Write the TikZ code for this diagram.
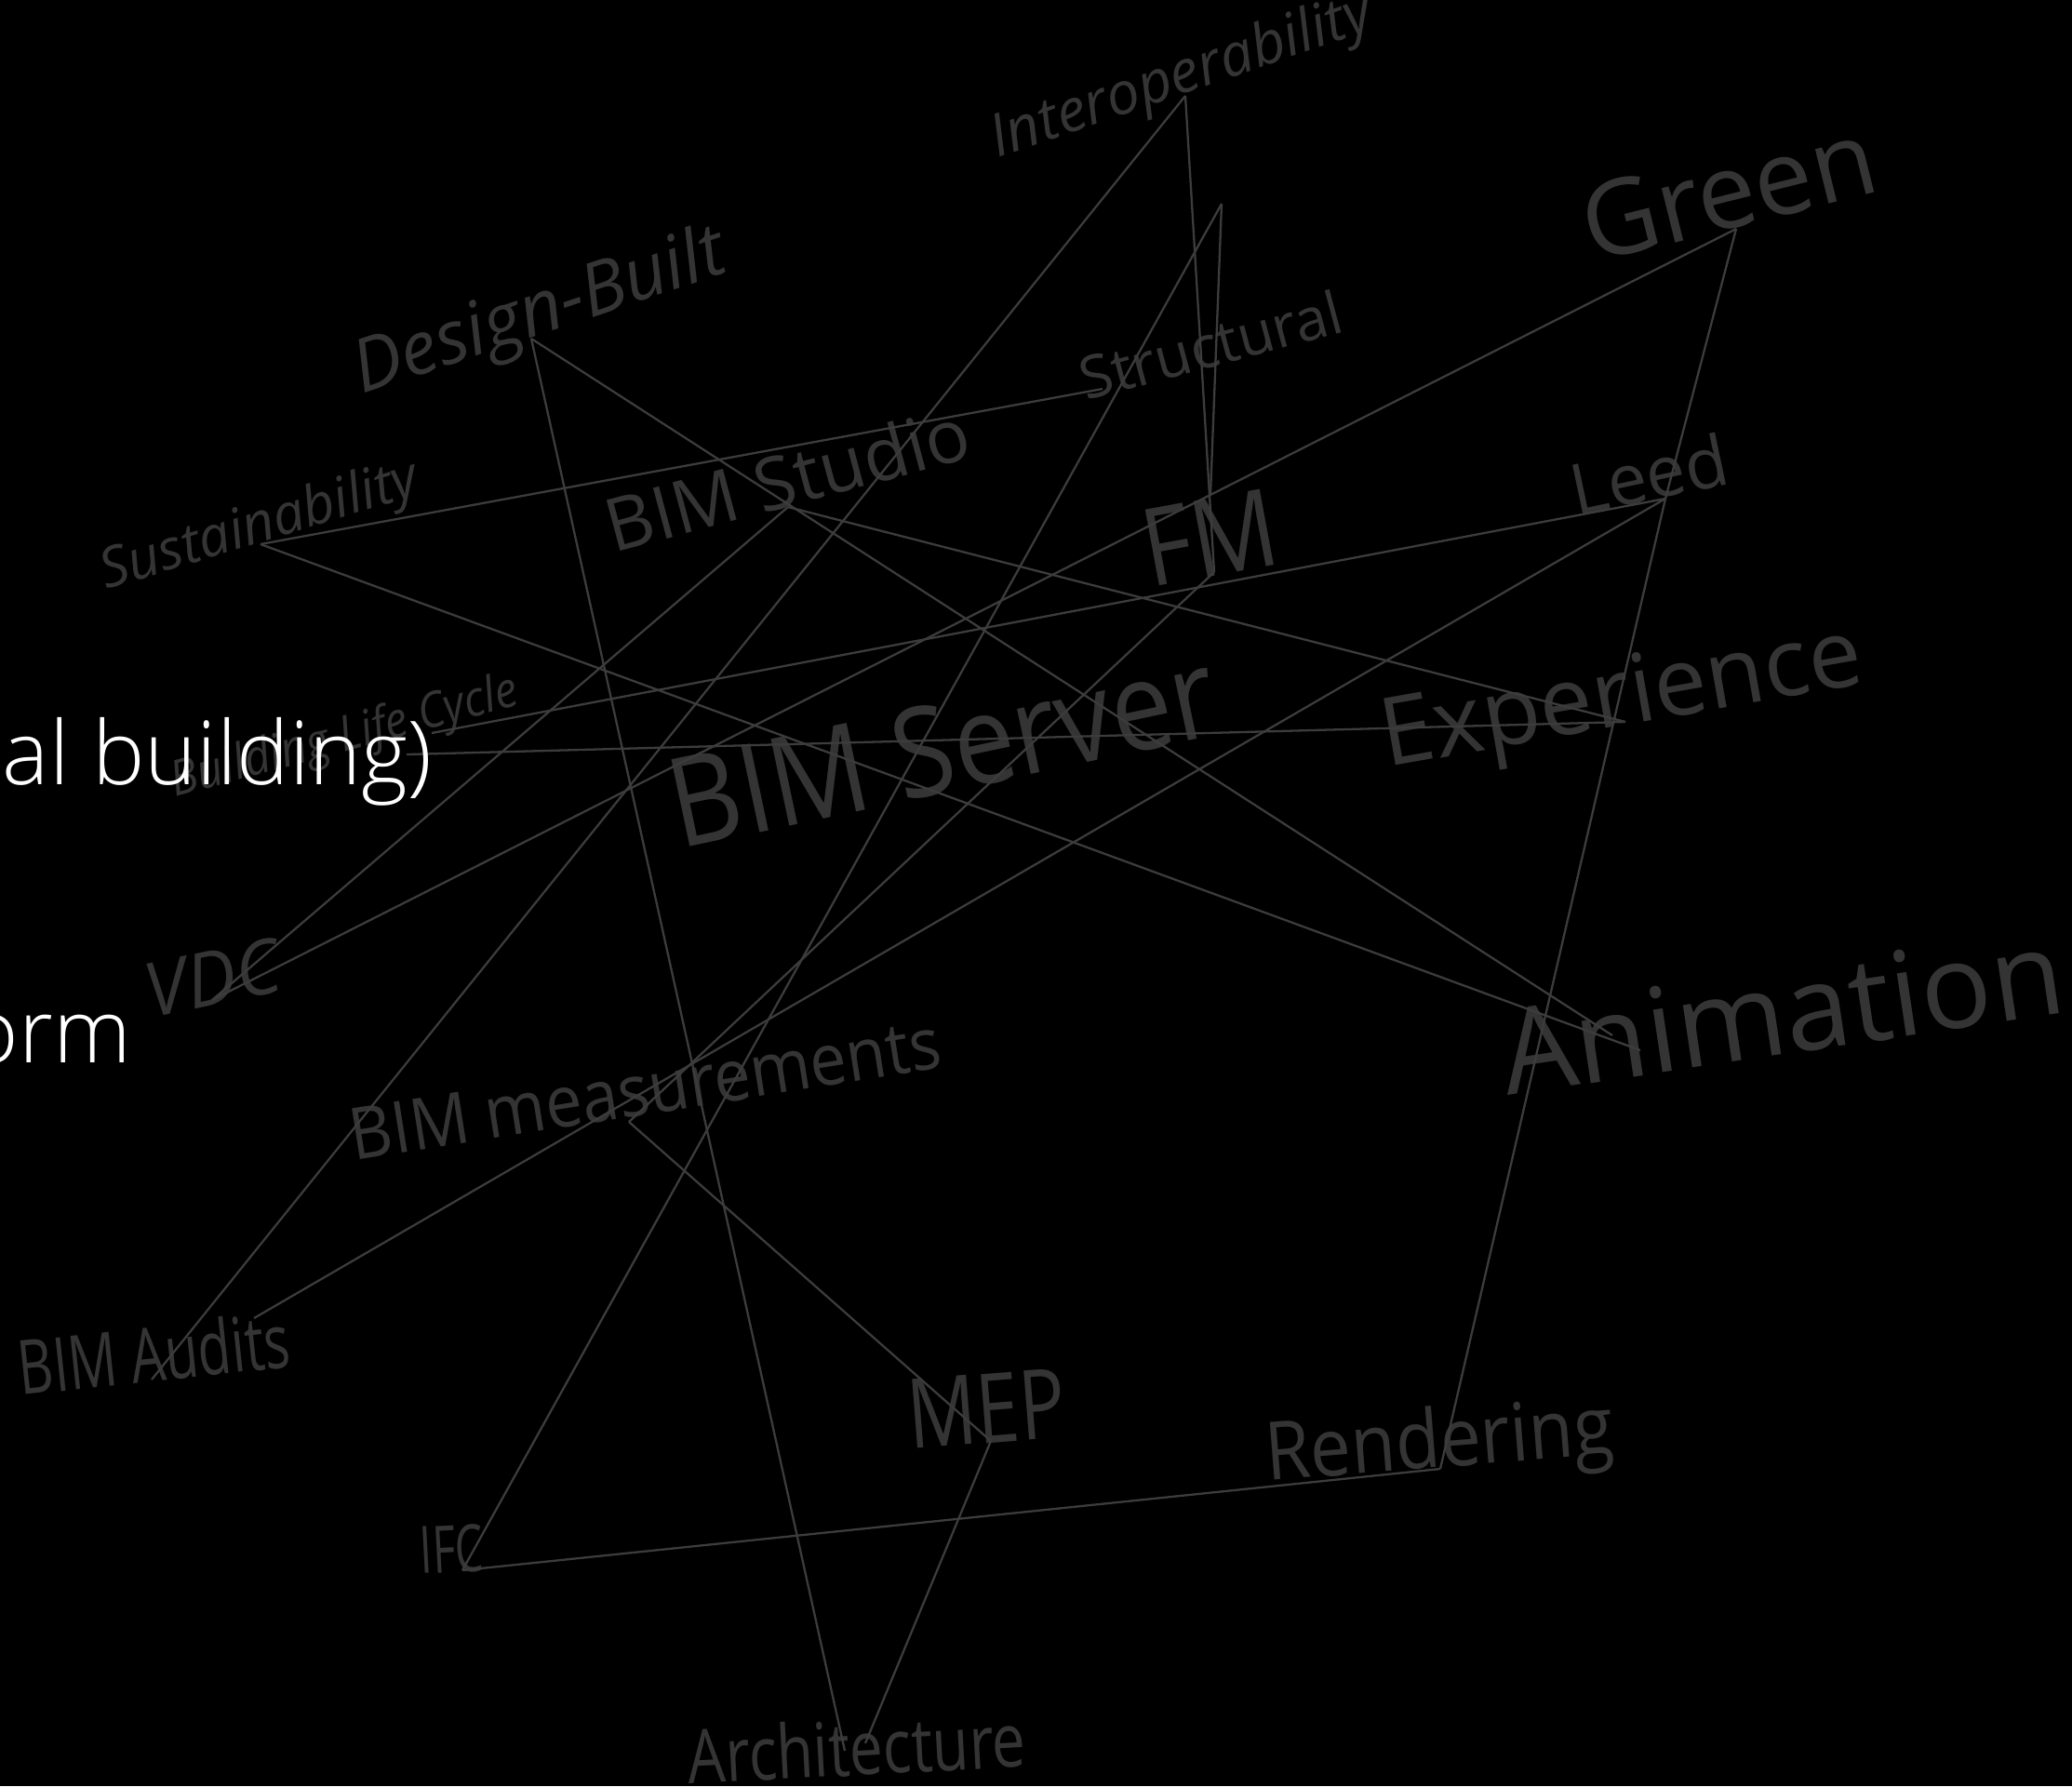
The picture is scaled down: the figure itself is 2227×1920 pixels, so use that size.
\documentclass[tikz,border=0pt]{standalone}
\usepackage{fontspec}
\setmainfont{Open Sans}
\IfFontExistsTF{Open Sans Light}{\newfontfamily\slidefont{Open Sans Light}}{\newfontfamily\slidefont{Open Sans}}
\usepackage{graphicx}
\usepackage{tikz}
\usetikzlibrary{positioning}
\definecolor{tagc}{RGB}{52,52,52}
\definecolor{linkc}{RGB}{60,60,60}
\newcommand{\tagsize}[1]{\fontsize{#1}{#1}\selectfont}

\begin{document}
\begin{tikzpicture}[
  x=0.01cm, y=-0.01cm,
  tag/.style={text=tagc, inner sep=0pt, anchor=base west},
  link/.style={draw=linkc, line width=0.65pt},
  slide/.style={text=white, inner sep=0pt, anchor=base east, font=\slidefont\tagsize{27}}
]
\fill[black] (0,0) rectangle (2227,1920);
\useasboundingbox (0,0) rectangle (2227,1920);

% labels
\node[tag, rotate=19, font=\tagsize{18}\itshape] (interop) at (1072,170) {Interoperability};
\node[tag, rotate=18.5, font=\tagsize{22.5}\itshape] (design) at (389,424) {Design-Built};
\node[tag, rotate=14, font=\tagsize{32}] (green) at (1711,283) {Green};
\node[tag, rotate=15, font=\tagsize{18}] (struct) at (1167,431) {Structural};
\node[tag, rotate=15, font=\tagsize{22.5}] (studio) at (659,595) {BIM Studio};
\node[tag, rotate=17, font=\tagsize{17}\itshape] (sustain) at (114,634) {Sustainability};
\node[tag, rotate=10.5, font=\tagsize{33}] (fm) at (1236,632) {\scalebox{0.88}[1]{FM}};
\node[tag, rotate=12, font=\tagsize{21.5}] (leed) at (1694,555) {Leed};
\node[tag, rotate=10, font=\tagsize{29}] (exper) at (1490,825) {Experience};
\node[tag, rotate=12, font=\tagsize{38}] (server) at (730,913) {\scalebox{0.88}[1]{BIM Server}};
\node[tag, rotate=15, font=\tagsize{15}\itshape] (cycle) at (188,857) {\scalebox{0.92}[1]{Building Life Cycle}};
\node[tag, rotate=12, font=\tagsize{23}\itshape] (vdc) at (162,1095) {VDC};
\node[tag, rotate=9, font=\tagsize{22}] (meas) at (380,1248) {\scalebox{0.91}[1]{BIM measurements}};
\node[tag, rotate=8.5, font=\tagsize{36}] (anim) at (1620,1178) {Animation};
\node[tag, rotate=6, font=\tagsize{23}] (audits) at (22,1500) {\scalebox{0.72}[1]{BIM Audits}};
\node[tag, rotate=4.5, font=\tagsize{29.6}] (mep) at (978,1558) {\scalebox{0.79}[1]{MEP}};
\node[tag, rotate=4.5, font=\tagsize{24.7}] (render) at (1362,1592) {\scalebox{0.9}[1]{Rendering}};
\node[tag, rotate=3, font=\tagsize{20}] (ifc) at (452,1692) {\scalebox{0.68}[1]{IFC}};
\node[tag, rotate=3, font=\tagsize{22.8}] (arch) at (740,1918) {\scalebox{0.8}[1]{Architecture}};

% line ends
\coordinate (interopP) at (1274,103);
\coordinate (apexP) at (1313,219);
\coordinate (fmTop) at (1301,532);
\coordinate (fmBot) at (1305,615);
\coordinate (greenP) at (1866,246);
\coordinate (leedP) at (1790,536);
\coordinate (structP) at (1185,418);
\coordinate (sustainP) at (280,585);
\coordinate (designP) at (571,364);
\coordinate (studioP) at (847,545);
\coordinate (cycleA) at (464,788);
\coordinate (cycleB) at (437,811);
\coordinate (experP) at (1747,776);
\coordinate (vdcP) at (228,1075);
\coordinate (measP) at (676,1206);
\coordinate (auditsA) at (163,1483);
\coordinate (auditsB) at (273,1417);
\coordinate (animA) at (1733,1113);
\coordinate (animB) at (1763,1129);
\coordinate (mepP) at (1065,1549);
\coordinate (archA) at (908,1882);
\coordinate (archB) at (930,1874);
\coordinate (ifcP) at (497,1688);
\coordinate (renderP) at (1548,1579);

\path (interopP) edge[link] (fmBot)
(interopP) edge[link] (auditsA)
(apexP) edge[link] (ifcP)
(apexP) edge[link] (fmTop)
(greenP) edge[link] (vdcP)
(greenP) edge[link] (leedP)
(leedP) edge[link] (renderP)
(leedP) edge[link] (cycleA)
(leedP) edge[link] (auditsB);

\path (sustainP) edge[link] (structP)
(sustainP) edge[link] (animB)
(designP) edge[link] (archA)
(designP) edge[link] (animA)
(studioP) edge[link] (vdcP)
(studioP) edge[link] (experP)
(cycleB) edge[link] (experP);

\path (fmBot) edge[link] (measP)
(measP) edge[link] (mepP)
(mepP) edge[link] (archB)
(ifcP) edge[link] (renderP);

% slide text on top
\node[slide] (build) at (465,843) {al building)};
\node[slide] (form) at (142,1142) {orm};

\end{tikzpicture}
\end{document}
